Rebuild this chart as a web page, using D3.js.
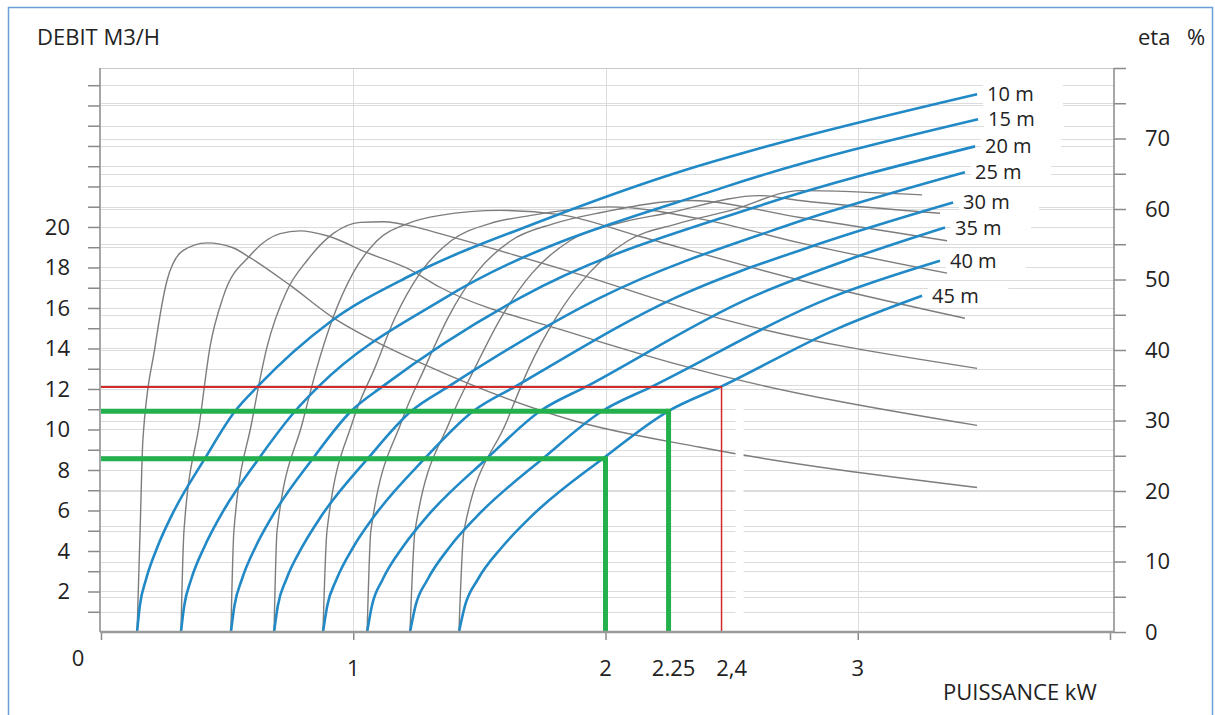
<!DOCTYPE html>
<html lang="fr">
  <head>
    <meta charset="utf-8">
    <title>Courbes pompe</title>
    <script src="https://cdn.jsdelivr.net/npm/d3@7"></script>
    <style>
      body { margin: 0; background: #fff; }
      text { font-family: "Open Sans", sans-serif; fill: #222; }
    </style>
  </head>
  <body>
    <script type="text/javascript">
      var w = 1215;
      var h = 715;

      // hauteurs (courbes bleues = debit, courbes grises = rendement)
      var headLabels = ["10 m", "15 m", "20 m", "25 m", "30 m", "35 m", "40 m", "45 m"];

      // debit m3/h en fonction de la puissance kW
      var flowP = [
        [0.143, 0.154, 0.178, 0.224, 0.278, 0.412, 0.531, 0.622, 0.908, 1.225, 1.740, 2.335, 2.612, 3.473],
        [0.317, 0.330, 0.357, 0.410, 0.472, 0.626, 0.769, 0.864, 1.364, 2.462, 3.477],
        [0.515, 0.529, 0.558, 0.613, 0.678, 0.840, 0.991, 1.118, 1.661, 2.601, 3.465],
        [0.686, 0.701, 0.734, 0.798, 0.872, 1.058, 1.229, 1.380, 1.978, 2.731, 3.425],
        [0.880, 0.897, 0.933, 1.001, 1.082, 1.284, 1.475, 1.645, 2.276, 2.850, 3.378],
        [1.055, 1.074, 1.116, 1.197, 1.292, 1.530, 1.740, 1.927, 2.573, 2.973, 3.346],
        [1.225, 1.247, 1.294, 1.383, 1.489, 1.752, 1.986, 2.188, 2.890, 3.326],
        [1.419, 1.443, 1.493, 1.591, 1.705, 1.990, 2.248, 2.462, 2.918, 3.255]
      ];
      var flowQ = [
        [0, 1.3, 2.58, 4.21, 5.70, 8.57, 10.90, 12.14, 15.31, 17.59, 20.27, 22.89, 23.89, 26.56],
        [0, 1.3, 2.58, 4.21, 5.70, 8.57, 10.90, 12.14, 16.50, 21.93, 25.32],
        [0, 1.3, 2.58, 4.21, 5.70, 8.57, 10.90, 12.14, 16.50, 21.01, 23.98],
        [0, 1.3, 2.58, 4.21, 5.70, 8.57, 10.90, 12.14, 16.50, 20.12, 22.70],
        [0, 1.3, 2.58, 4.21, 5.70, 8.57, 10.90, 12.14, 16.50, 19.18, 21.21],
        [0, 1.3, 2.58, 4.21, 5.70, 8.57, 10.90, 12.14, 16.50, 18.43, 19.97],
        [0, 1.3, 2.58, 4.21, 5.70, 8.57, 10.90, 12.14, 16.50, 18.33],
        [0, 1.3, 2.58, 4.21, 5.70, 8.57, 10.90, 12.14, 14.97, 16.60]
      ];

      // rendement % en fonction de la puissance kW
      var etaP = [
        [0.143, 0.155, 0.166, 0.214, 0.262, 0.325, 0.420, 0.523, 0.591, 0.749, 0.920, 1.094, 1.265, 1.871, 2.375, 3.473],
        [0.317, 0.329, 0.392, 0.432, 0.484, 0.591, 0.710, 0.789, 0.896, 1.055, 1.213, 1.344, 1.859, 2.375, 3.473],
        [0.515, 0.527, 0.599, 0.658, 0.737, 0.817, 0.920, 1.027, 1.118, 1.253, 1.344, 1.899, 2.482, 3.473],
        [0.686, 0.698, 0.801, 0.856, 0.920, 0.999, 1.094, 1.213, 1.344, 1.582, 1.820, 2.137, 2.771, 3.425],
        [0.880, 0.896, 0.999, 1.086, 1.166, 1.265, 1.388, 1.538, 1.705, 2.018, 2.375, 2.771, 3.354],
        [1.055, 1.070, 1.193, 1.284, 1.376, 1.487, 1.625, 1.792, 1.982, 2.335, 2.771, 3.354],
        [1.225, 1.245, 1.384, 1.483, 1.586, 1.709, 1.859, 2.042, 2.244, 2.612, 2.771, 3.326],
        [1.419, 1.439, 1.610, 1.697, 1.804, 1.935, 2.089, 2.283, 2.498, 2.771, 3.255]
      ];
      var etaV = [
        [0, 14.4, 27.2, 40.4, 49.9, 54.1, 55.2, 54.5, 53.1, 49.2, 44.6, 41.1, 38.2, 30.0, 26.2, 20.5],
        [0, 14.4, 30.0, 40.4, 47.5, 53.4, 56.5, 56.9, 56.2, 53.8, 51.6, 48.9, 42.5, 37.1, 29.3],
        [0, 14.4, 30.0, 40.4, 48.4, 52.7, 56.5, 58.1, 58.2, 57.4, 56.5, 50.7, 44.2, 37.4],
        [0, 14.4, 30.0, 37.5, 44.6, 50.9, 55.5, 57.9, 59.1, 59.8, 59.2, 56.1, 49.9, 44.5],
        [0, 14.4, 30.0, 37.5, 44.6, 50.9, 55.5, 57.9, 59.1, 60.3, 58.6, 55.2, 50.9],
        [0, 14.4, 30.0, 37.5, 44.6, 50.9, 55.5, 57.9, 59.5, 61.2, 58.8, 55.5],
        [0, 14.4, 30.0, 37.5, 44.6, 50.9, 55.5, 57.9, 59.4, 61.9, 61.2, 59.4],
        [0, 14.4, 30.0, 37.5, 44.6, 50.9, 55.5, 57.9, 59.8, 62.6, 62.0]
      ];

      // lectures : puissance -> debit
      var readP = [2, 2.25, 2.46];
      var readQ = [8.55, 10.9, 12.1];
      var readColor = ["#22b14c", "#22b14c", "#d02a2a"];

      var debitTicks = [2, 4, 6, 8, 10, 12, 14, 16, 18, 20];
      var etaTicks = [0, 10, 20, 30, 40, 50, 60, 70];
      var kwTickPos = [1, 2, 2.27, 2.5, 3];
      var kwTickText = ["1", "2", "2.25", "2,4", "3"];

      var xScale = d3.scaleLinear().domain([0, 4]).range([101, 1110]);
      var yScale = d3.scaleLinear().domain([0, 27.85]).range([632, 68]);
      var etaScale = d3.scaleLinear().domain([0, 80]).range([632, 68]);
      var xRight = 1114;

      var svg = d3.select("body")
          .append("svg")
          .attr("width", w)
          .attr("height", h);

      svg.append("rect")
          .attr("x", 8.5).attr("y", 7.5)
          .attr("width", 1204).attr("height", 730)
          .attr("fill", "#fff")
          .attr("stroke", "#6a9fd8")
          .attr("stroke-width", 1.5);

      // grille
      var grid = svg.append("g").attr("stroke", "#dcdcdc").attr("stroke-width", 1);
      grid.selectAll(".gq")
          .data(d3.range(1, 28))
          .enter().append("line")
          .attr("x1", xScale(0)).attr("x2", xRight)
          .attr("y1", d => Math.round(yScale(d)) + 0.5)
          .attr("y2", d => Math.round(yScale(d)) + 0.5);
      grid.selectAll(".ge")
          .data(d3.range(5, 80, 5))
          .enter().append("line")
          .attr("x1", xScale(0)).attr("x2", xRight)
          .attr("y1", d => Math.round(etaScale(d)) + 0.5)
          .attr("y2", d => Math.round(etaScale(d)) + 0.5);
      grid.selectAll(".gx")
          .data([1, 2, 3])
          .enter().append("line")
          .attr("x1", d => Math.round(xScale(d)) + 0.5)
          .attr("x2", d => Math.round(xScale(d)) + 0.5)
          .attr("y1", yScale.range()[1]).attr("y2", 632);
      svg.append("line")
          .attr("x1", xScale(0)).attr("x2", xRight)
          .attr("y1", 68.5).attr("y2", 68.5)
          .attr("stroke", "#c8c8c8");

      // fonds blancs derriere les etiquettes
      var labelBoxes = svg.append("g");
      flowP.forEach(function(p, i) {
        var n = p.length - 1;
        labelBoxes.append("rect")
            .attr("x", xScale(p[n]) + 6)
            .attr("y", yScale(flowQ[i][n]) - 12)
            .attr("width", 80).attr("height", 24)
            .attr("fill", "#fff");
      });

      var line = d3.line()
          .x(d => xScale(d[0]))
          .y(d => yScale(d[1]))
          .curve(d3.curveMonotoneX);
      var etaLine = d3.line()
          .x(d => xScale(d[0]))
          .y(d => etaScale(d[1]))
          .curve(d3.curveMonotoneX);

      svg.append("g").selectAll("path")
          .data(etaP.map((p, i) => d3.zip(p, etaV[i])))
          .enter().append("path")
          .attr("d", etaLine)
          .attr("fill", "none")
          .attr("stroke", "#7d7d7d")
          .attr("stroke-width", 1.4);

      svg.append("g").selectAll("path")
          .data(flowP.map((p, i) => d3.zip(p, flowQ[i])))
          .enter().append("path")
          .attr("d", line)
          .attr("fill", "none")
          .attr("stroke", "#2189c6")
          .attr("stroke-width", 2.6);

      // coupure blanche sous la lecture 2,4
      svg.append("rect")
          .attr("x", xScale(2.46) + 14).attr("y", yScale(12.1) + 5)
          .attr("width", 8).attr("height", 632 - yScale(12.1) - 7)
          .attr("fill", "#fff");

      // lectures
      readP.forEach(function(p, i) {
        var sw = i < 2 ? 5 : 2;
        svg.append("line")
            .attr("x1", xScale(0)).attr("x2", xScale(p))
            .attr("y1", yScale(readQ[i])).attr("y2", yScale(readQ[i]))
            .attr("stroke", readColor[i]).attr("stroke-width", sw);
        svg.append("line")
            .attr("x1", xScale(p)).attr("x2", xScale(p))
            .attr("y1", yScale(readQ[i]) - sw / 2).attr("y2", 632)
            .attr("stroke", readColor[i]).attr("stroke-width", i < 2 ? 5 : 1.5);
      });

      // axes
      var yAxis = d3.axisLeft(yScale)
          .tickValues(d3.range(1, 28))
          .tickSize(12)
          .tickPadding(18)
          .tickFormat(d => debitTicks.indexOf(d) >= 0 ? d : "");
      var gy = svg.append("g")
          .attr("transform", "translate(100,0)")
          .call(yAxis);

      var etaAxis = d3.axisRight(etaScale)
          .tickValues(d3.range(0, 81, 5))
          .tickSize(12)
          .tickPadding(19)
          .tickFormat(d => etaTicks.indexOf(d) >= 0 ? d : "");
      var ge = svg.append("g")
          .attr("transform", "translate(" + xRight + ",0)")
          .call(etaAxis);

      var xAxis = d3.axisBottom(xScale)
          .tickValues([0, 1, 2, 3, 4])
          .tickSize(8)
          .tickFormat("");
      var gx = svg.append("g")
          .attr("transform", "translate(0,632)")
          .call(xAxis);

      [gy, ge, gx].forEach(function(g) {
        g.select(".domain").remove();
        g.selectAll(".tick line").attr("stroke", "#8a8a8a").attr("stroke-width", 1.5);
        g.attr("font-size", 22).attr("font-family", "Open Sans");
        g.selectAll("text").attr("fill", "#222");
      });

      svg.append("line")
          .attr("x1", 100).attr("x2", 100).attr("y1", 68).attr("y2", 632)
          .attr("stroke", "#8a8a8a").attr("stroke-width", 1.5);
      svg.append("line")
          .attr("x1", xRight).attr("x2", xRight).attr("y1", 68).attr("y2", 632)
          .attr("stroke", "#8a8a8a").attr("stroke-width", 1.5);
      svg.append("line")
          .attr("x1", 100).attr("x2", xRight).attr("y1", 632).attr("y2", 632)
          .attr("stroke", "#9a9a9a").attr("stroke-width", 2.5);

      svg.append("g").selectAll("text")
          .data(kwTickPos)
          .enter().append("text")
          .attr("x", d => xScale(d))
          .attr("y", 676)
          .attr("text-anchor", "middle")
          .attr("font-size", 22)
          .text((d, i) => kwTickText[i]);
      svg.append("text")
          .attr("x", 78).attr("y", 666)
          .attr("text-anchor", "middle")
          .attr("font-size", 22)
          .text("0");

      // etiquettes des hauteurs
      svg.append("g").selectAll("text")
          .data(headLabels)
          .enter().append("text")
          .attr("x", (d, i) => xScale(flowP[i][flowP[i].length - 1]) + 10)
          .attr("y", (d, i) => yScale(flowQ[i][flowQ[i].length - 1]))
          .attr("dy", "0.35em")
          .attr("font-size", 20)
          .text(d => d);

      // titres
      svg.append("text").attr("x", 37).attr("y", 45).attr("font-size", 22).text("DEBIT M3/H");
      svg.append("text").attr("x", 1138).attr("y", 45).attr("font-size", 22).text("eta");
      svg.append("text").attr("x", 1187).attr("y", 45).attr("font-size", 22).text("%");
      svg.append("text").attr("x", 943).attr("y", 700).attr("font-size", 22).text("PUISSANCE kW");
    </script>
  </body>
</html>
